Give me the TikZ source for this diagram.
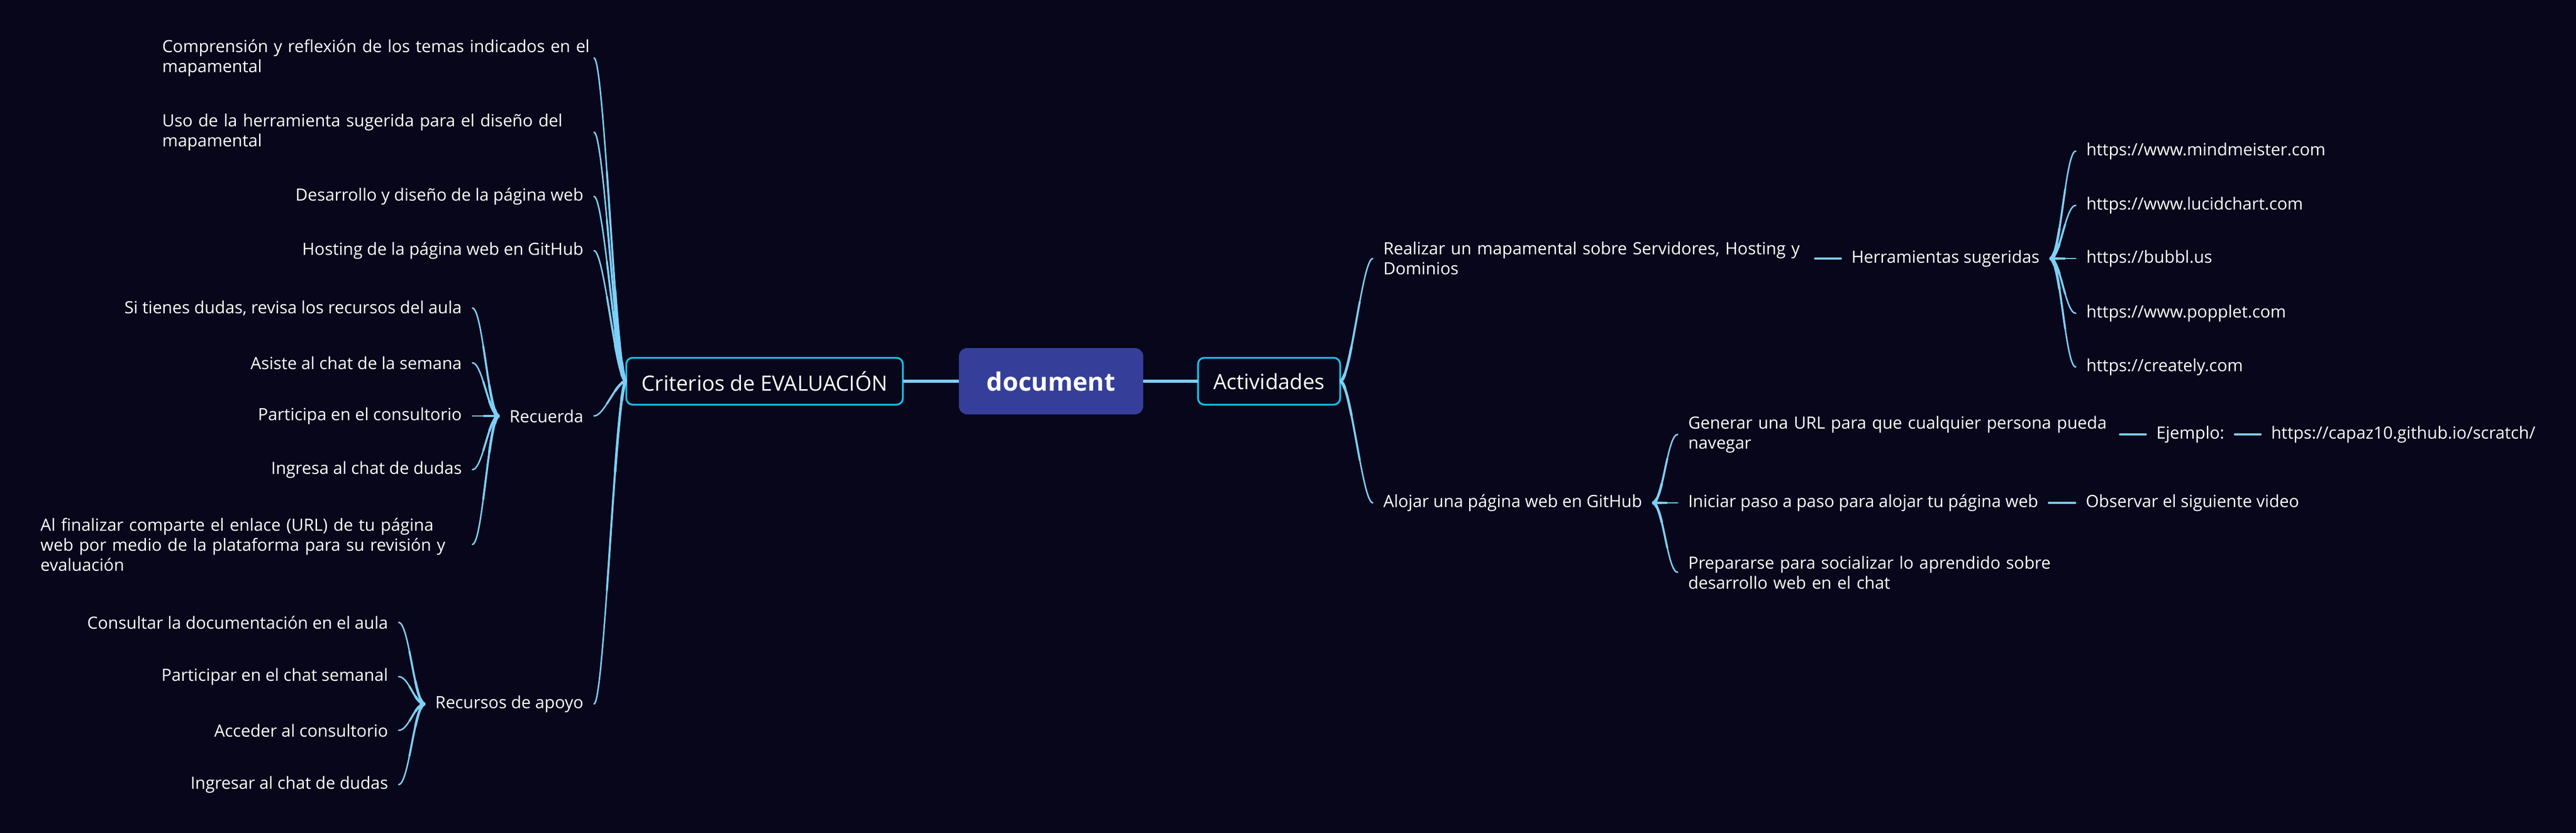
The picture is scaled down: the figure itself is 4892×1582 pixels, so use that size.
\documentclass[tikz,border=0pt]{standalone}
\usepackage{fontspec}
\setmainfont{Open Sans}
\usetikzlibrary{calc}
\definecolor{bg}{HTML}{08061A}
\definecolor{linec}{HTML}{7ECFF7}
\definecolor{boxc}{HTML}{16BDE6}
\definecolor{centc}{HTML}{353F99}
% tapered curved connector: #1 parent anchor, #2 child anchor, #3 signed control offset
\newcommand\tconn[3]{%
  \coordinate (p0) at (#1);
  \coordinate (p3) at (#2);
  \coordinate (p1) at ($(p0)+(#3,0)$);
  \coordinate (p2) at ($(p3)-(#3,0)$);
  \draw[conn, line width=0.7pt] (p0) .. controls (p1) and (p2) .. (p3);
  \foreach \tv/\wv in {0.6/0.95pt,0.35/1.2pt,0.15/1.45pt}{
    \coordinate (q1) at ($(p0)!\tv!(p1)$);
    \coordinate (mm) at ($(p1)!\tv!(p2)$);
    \coordinate (rr) at ($(p2)!\tv!(p3)$);
    \coordinate (q2) at ($(q1)!\tv!(mm)$);
    \coordinate (r2) at ($(mm)!\tv!(rr)$);
    \coordinate (q3) at ($(q2)!\tv!(r2)$);
    \draw[conn, line width=\wv, line cap=butt] (p0) .. controls (q1) and (q2) .. (q3);
  }%
}
\begin{document}
\begin{tikzpicture}[x=0.25pt,y=-0.25pt,
  conn/.style={draw=linec, line cap=round},
  leaf/.style={text=white, font=\fontsize{8}{9.5}\selectfont, inner xsep=5pt, inner ysep=1pt, outer sep=0pt},
  lleaf/.style={leaf, anchor=east},
  rleaf/.style={leaf, anchor=west},
  lwrap/.style={lleaf, text width=200pt, align=left},
  rwrap/.style={rleaf, text width=200pt, align=left},
  mainbox/.style={draw=boxc, line width=0.875pt, rounded corners=3pt, fill=bg, text=white, font=\fontsize{10}{12}\selectfont, minimum height=22.25pt, inner xsep=7.3pt, outer sep=0pt},
  central/.style={fill=centc, rounded corners=4pt, text=white, font=\fontsize{12}{14}\selectfont\bfseries, minimum width=87.5pt, minimum height=31.5pt, outer sep=0pt},
  straight/.style={conn, line width=1pt}
]
\useasboundingbox (0,0) rectangle (4892,1582);
\fill[bg] (0,0) rectangle (4892,1582);

% main nodes
\node[central] (doc) at (1996,724) {document};
\node[mainbox] (crit) at (1452,724) {Criterios de EVALUACIÓN};
\node[mainbox] (acti) at (2410,724) {Actividades};
\draw[linec, line width=1.5pt] (doc.west) -- (crit.east);
\draw[linec, line width=1.5pt] (doc.east) -- (acti.west);

% left: Criterios children
\node[lwrap] (comp) at (1128,110) {\mbox{Comprensión y reflexión de los temas indicados en el}\\mapamental};
\node[lwrap] (uso) at (1128,251) {Uso de la herramienta sugerida para el diseño del\\mapamental};
\node[lleaf] (desa) at (1128,373) {Desarrollo y diseño de la página web};
\node[lleaf] (host) at (1128,476) {Hosting de la página web en GitHub};
\node[lleaf] (recu) at (1128,790) {Recuerda};
\node[lleaf] (recs) at (1128,1337) {Recursos de apoyo};
\foreach \c in {comp,uso,desa,host,recu,recs}{\tconn{crit.west}{\c.east}{-20}}

% Recuerda children
\node[lleaf] (si) at (897,585) {Si tienes dudas, revisa los recursos del aula};
\node[lleaf] (asis) at (897,689) {Asiste al chat de la semana};
\node[lleaf] (part) at (897,790) {Participa en el consultorio};
\node[lleaf] (ingr) at (897,892) {Ingresa al chat de dudas};
\node[lwrap] (alfin) at (897,1034) {Al finalizar comparte el enlace (URL) de tu página\\web por medio de la plataforma para su revisión y\\evaluación};
\foreach \c in {si,asis,part,ingr,alfin}{\tconn{recu.west}{\c.east}{-20}}

% Recursos de apoyo children
\node[lleaf] (cons) at (757,1182) {Consultar la documentación en el aula};
\node[lleaf] (partc) at (757,1285) {Participar en el chat semanal};
\node[lleaf] (acce) at (757,1387) {Acceder al consultorio};
\node[lleaf] (ingc) at (757,1490) {Ingresar al chat de dudas};
\foreach \c in {cons,partc,acce,ingc}{\tconn{recs.west}{\c.east}{-20}}

% right: Actividades children
\node[rwrap] (real) at (2607,491) {Realizar un mapamental sobre Servidores, Hosting y\\Dominios};
\node[rleaf] (aloj) at (2607,955) {Alojar una página web en GitHub};
\foreach \c in {real,aloj}{\tconn{acti.east}{\c.west}{20}}

% Herramientas sugeridas
\node[rleaf] (herr) at (3496,491) {Herramientas sugeridas};
\draw[straight] (real.east) -- (herr.west);
\node[rleaf] (u1) at (3942,287) {https://www.mindmeister.com};
\node[rleaf] (u2) at (3942,390) {https://www.lucidchart.com};
\node[rleaf] (u3) at (3942,491) {https://bubbl.us};
\node[rleaf] (u4) at (3942,595) {https://www.popplet.com};
\node[rleaf] (u5) at (3942,697) {https://creately.com};
\foreach \c in {u1,u2,u3,u4,u5}{\tconn{herr.east}{\c.west}{20}}

% Alojar children
\node[rwrap] (gen) at (3186,825) {Generar una URL para que cualquier persona pueda\\navegar};
\node[rleaf] (ini) at (3186,955) {Iniciar paso a paso para alojar tu página web};
\node[rwrap] (prep) at (3186,1087) {Prepararse para socializar lo aprendido sobre\\desarrollo web en el chat};
\foreach \c in {gen,ini,prep}{\tconn{aloj.east}{\c.west}{20}}

\node[rleaf] (ejem) at (4075,825) {Ejemplo:};
\node[rleaf] (url) at (4293,825) {https://capaz10.github.io/scratch/};
\draw[straight] (gen.east) -- (ejem.west);
\draw[straight] (ejem.east) -- (url.west);

\node[rleaf] (obs) at (3941,955) {Observar el siguiente video};
\draw[straight] (ini.east) -- (obs.west);
\end{tikzpicture}
\end{document}
